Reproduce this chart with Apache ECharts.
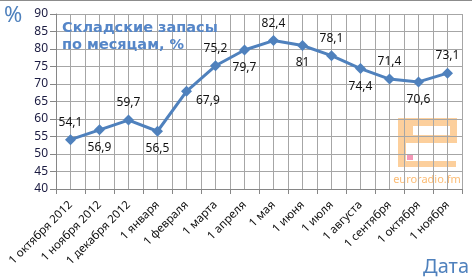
<!DOCTYPE html>
<html>
<head>
<meta charset="utf-8">
<script src="https://cdn.jsdelivr.net/npm/echarts@6/dist/echarts.min.js"></script>
<style>
  html, body { margin: 0; padding: 0; background: #fff; }
  #chart { width: 472px; height: 278px; }
</style>
</head>
<body>
<div id="chart"></div>
<script>
// Данные
const months = [
  '1 октября 2012', '1 ноября 2012', '1 декабря 2012', '1 января', '1 февраля',
  '1 марта', '1 апреля', '1 мая', '1 июня', '1 июля', '1 августа',
  '1 сентября', '1 октября', '1 ноября'
];
const stock = [54.1, 56.9, 59.7, 56.5, 67.9, 75.2, 79.7, 82.4, 81, 78.1, 74.4, 71.4, 70.6, 73.1];
// где стоит подпись у каждой точки
const labelPos = ['top', 'bottom', 'top', 'bottom', 'right', 'top', 'bottom',
  'top', 'bottom', 'top', 'bottom', 'top', 'bottom', 'top'];
const yMin = 40;
const yMax = 90;
const yStep = 5;

const BLUE = '#4F81BD';
const GRID = '#A6A6A6';
const FONT = 'Noto Sans';

const chart = echarts.init(document.getElementById('chart'));

function fmt(v) {
  return String(v).replace('.', ',');
}

const points = stock.map((v, i) => {
  const pos = labelPos[i];
  const item = { value: v, label: { position: pos } };
  if (pos === 'right') item.label.offset = [-2, 9];
  return item;
});

const option = {
  backgroundColor: '#fff',
  animation: false,
  grid: { left: 56, right: 10, top: 14, bottom: 89, containLabel: false },
  title: {
    text: 'Складские запасы\nпо месяцам, %',
    left: 57,
    top: 15,
    textStyle: {
      color: '#5586C8',
      fontFamily: 'DejaVu Sans',
      fontWeight: 'bold',
      fontSize: 14.5,
      lineHeight: 17
    }
  },
  xAxis: [
    {
      type: 'category',
      data: months,
      boundaryGap: true,
      axisLine: { lineStyle: { color: '#868686', width: 1 } },
      axisTick: { show: true, length: 5, lineStyle: { color: '#868686' } },
      axisLabel: {
        rotate: 45,
        interval: 0,
        margin: 14,
        color: '#111',
        fontFamily: FONT,
        fontSize: 11.5
      },
      splitLine: { show: false }
    },
    {
      // только вертикальная сетка через полкатегории
      type: 'value',
      position: 'bottom',
      min: 0,
      max: months.length * 2,
      interval: 1,
      axisLine: { show: false },
      axisTick: { show: false },
      axisLabel: { show: false },
      splitLine: { show: true, lineStyle: { color: GRID, width: 1 } }
    }
  ],
  yAxis: {
    type: 'value',
    min: yMin,
    max: yMax,
    interval: yStep,
    axisLine: { show: true, lineStyle: { color: '#868686' } },
    axisTick: { show: true, length: 6, lineStyle: { color: '#868686' } },
    axisLabel: {
      margin: 8,
      color: '#1a1a40',
      fontFamily: FONT,
      fontSize: 12
    },
    splitLine: { show: true, lineStyle: { color: GRID, width: 1 } }
  },
  series: [
    {
      type: 'line',
      xAxisIndex: 0,
      data: points,
      symbol: 'diamond',
      symbolSize: 11,
      lineStyle: { color: BLUE, width: 3 },
      itemStyle: { color: BLUE },
      label: {
        show: true,
        distance: 6,
        color: '#111',
        fontFamily: FONT,
        fontSize: 12,
        formatter: (p) => fmt(p.value)
      },
      z: 5
    }
  ],
  graphic: [
    { type: 'line', shape: { x1: 0, y1: 0.5, x2: 472, y2: 0.5 }, style: { stroke: '#8c8c8c', lineWidth: 1 } },
    { type: 'text', left: 4, top: 5, style: { text: '%', fill: BLUE, font: '22px "Noto Sans"' } },
    { type: 'text', right: 3, bottom: 1, style: { text: 'Дата', fill: BLUE, font: '20px "Noto Sans"' } },
    // логотип euroradio.fm
    {
      type: 'group',
      z: 10,
      children: [
        { type: 'rect', shape: { x: 398, y: 118, width: 59, height: 8 }, style: { fill: 'rgba(250,175,90,0.6)' } },
        { type: 'rect', shape: { x: 398, y: 126, width: 15, height: 9 }, style: { fill: 'rgba(250,175,90,0.6)' } },
        { type: 'rect', shape: { x: 450, y: 126, width: 7, height: 9 }, style: { fill: 'rgba(250,175,90,0.6)' } },
        { type: 'rect', shape: { x: 398, y: 135, width: 59, height: 8 }, style: { fill: 'rgba(250,175,90,0.6)' } },
        { type: 'rect', shape: { x: 398, y: 143, width: 8, height: 18 }, style: { fill: 'rgba(250,175,90,0.6)' } },
        { type: 'rect', shape: { x: 398, y: 161, width: 58, height: 6 }, style: { fill: 'rgba(250,175,90,0.6)' } },
        { type: 'rect', shape: { x: 407, y: 154, width: 6, height: 6 }, style: { fill: '#F598B8' } },
        { type: 'text', x: 427, y: 180, style: { text: 'euroradio.fm', fill: 'rgba(250,170,80,0.8)', font: '11px "Noto Sans"', align: 'center', verticalAlign: 'middle' } }
      ]
    }
  ]
};

chart.setOption(option);
</script>
</body>
</html>
